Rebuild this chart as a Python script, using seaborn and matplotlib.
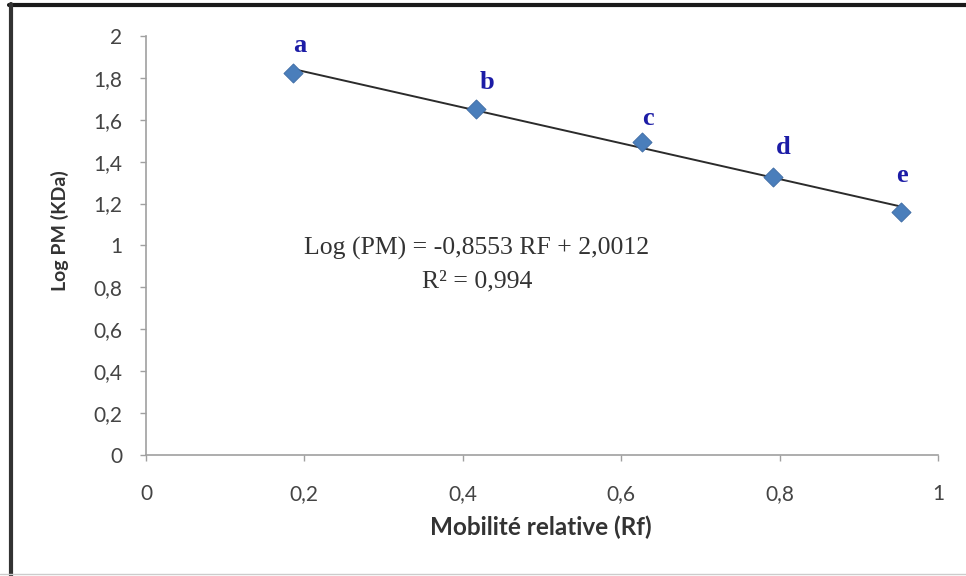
import numpy as np
import pandas as pd
import matplotlib
matplotlib.use("Agg")
import matplotlib.pyplot as plt
from matplotlib.lines import Line2D
import seaborn as sns

# Protein standards: relative mobility vs log molecular weight
labels = ["a", "b", "c", "d", "e"]
rf = [0.186, 0.417, 0.626, 0.792, 0.953]
log_pm = [1.821, 1.650, 1.492, 1.325, 1.158]

# Linear fit reported on the chart
slope = -0.8553
intercept = 2.0012
r2 = 0.994

x_ticks = [0, 0.2, 0.4, 0.6, 0.8, 1]
y_ticks = [0, 0.2, 0.4, 0.6, 0.8, 1, 1.2, 1.4, 1.6, 1.8, 2]

df = pd.DataFrame({"Rf": rf, "LogPM": log_pm, "label": labels})

sns.set_theme(style="white")
plt.rcParams["font.family"] = ["Lato", "DejaVu Sans"]

fig = plt.figure(figsize=(9.66, 5.76), dpi=100)
ax = fig.add_axes([0.1511, 0.2101, 0.8199, 0.7274])

# Regression line across the range of the standards
xs = np.array([min(rf), max(rf)])
ax.plot(xs, slope * xs + intercept, color="#2b2b2b", lw=1.4, zorder=2)

sns.scatterplot(data=df, x="Rf", y="LogPM", marker="D", s=95,
                color="#4a7ebb", edgecolor="#3d6aa3", linewidth=0.6,
                ax=ax, zorder=3, legend=False)

# Letter tags above each marker (offsets in points)
offsets = [(5, 20), (8, 19.5), (4.3, 17.3), (7.2, 21.6), (0.7, 26.6)]
for lab, x, y, (dx, dy) in zip(labels, rf, log_pm, offsets):
    ax.annotate(lab, (x, y), xytext=(dx, dy), textcoords="offset points",
                ha="center", va="center", fontsize=19, fontweight="bold",
                family="Liberation Serif", color="#1c1ca6")

eq = f"Log (PM) = {slope:.4f} RF + {intercept:.4f}".replace(".", ",")
ax.text(0.418, 0.985, eq, ha="center", va="center", fontsize=18.5,
        family="Liberation Serif", color="#333333")
ax.text(0.418, 0.83, f"R² = {r2:.3f}".replace(".", ","), ha="center",
        va="center", fontsize=18.5, family="Liberation Serif", color="#333333")

ax.set_xlim(0, 1)
ax.set_ylim(0, 2)
ax.set_xticks(x_ticks)
ax.set_yticks(y_ticks)
fmt = lambda v: f"{v:g}".replace(".", ",")
ax.set_xticklabels([fmt(v) for v in x_ticks])
ax.set_yticklabels([fmt(v) for v in y_ticks])
ax.tick_params(axis="both", labelsize=15, labelcolor="#444444", colors="#a0a0a0",
               length=4, width=1, direction="out", bottom=True, left=True)
ax.tick_params(axis="x", pad=17)
ax.tick_params(axis="y", pad=13)
for s in ["top", "right"]:
    ax.spines[s].set_visible(False)
for s in ["left", "bottom"]:
    ax.spines[s].set_color("#a0a0a0")
    ax.spines[s].set_linewidth(1.2)

ax.set_xlabel("")
ax.set_ylabel("")
fig.text(0.560, 0.085, "Mobilité relative (Rf)", ha="center", va="center",
         fontsize=17.5, fontweight="bold", color="#333333")
fig.text(0.062, 0.60, "Log PM (KDa)", ha="center", va="center", rotation=90,
         fontsize=14, fontweight="bold", color="#333333")

# Frame around the figure
fig.add_artist(Line2D([0.009, 1.0], [0.991, 0.991], transform=fig.transFigure,
                      color="#1a1a1a", lw=3))
fig.add_artist(Line2D([0.011, 0.011], [0.0, 0.993], transform=fig.transFigure,
                      color="#333333", lw=3))
fig.add_artist(Line2D([0.0, 1.0], [0.004, 0.004], transform=fig.transFigure,
                      color="#cccccc", lw=1))

fig.savefig("out.png", dpi=100, facecolor="white")
